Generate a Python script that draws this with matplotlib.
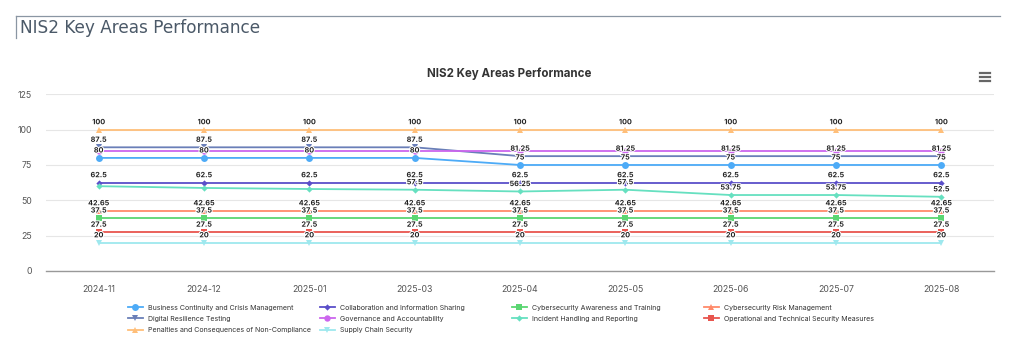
#!/usr/bin/env python3
"""
NIS2 key areas performance - line chart with data labels
"""

import matplotlib
matplotlib.use('Agg')
import matplotlib.pyplot as plt
import matplotlib.patheffects as pe
from matplotlib.lines import Line2D
import numpy as np

months = ['2024-11', '2024-12', '2025-01', '2025-03', '2025-04',
          '2025-05', '2025-06', '2025-07', '2025-08']

business_continuity = [80, 80, 80, 80, 75, 75, 75, 75, 75]
collaboration = [62.5] * 9
awareness_training = [37.5] * 9
risk_management = [42.65] * 9
digital_resilience = [87.5, 87.5, 87.5, 87.5, 81.25, 81.25, 81.25, 81.25, 81.25]
governance = [85] * 9
incident_handling = [60, 58.75, 58, 57.5, 56.25, 57.5, 53.75, 53.75, 52.5]
operational = [27.5] * 9
penalties = [100] * 9
supply_chain = [20] * 9

series_names = [
    'Business Continuity and Crisis Management',
    'Collaboration and Information Sharing',
    'Cybersecurity Awareness and Training',
    'Cybersecurity Risk Management',
    'Digital Resilience Testing',
    'Governance and Accountability',
    'Incident Handling and Reporting',
    'Operational and Technical Security Measures',
    'Penalties and Consequences of Non-Compliance',
    'Supply Chain Security',
]
series_values = [business_continuity, collaboration, awareness_training,
                 risk_management, digital_resilience, governance,
                 incident_handling, operational, penalties, supply_chain]

# colour, marker, marker size per series
styles = [
    ('#4dabf7', 'o', 5.0),
    ('#5b4fc9', 'D', 3.2),
    ('#5bd672', 's', 4.6),
    ('#ff8a6a', '^', 4.6),
    ('#6a7fb8', 'v', 4.6),
    ('#cc66ee', 'o', 4.6),
    ('#66e0c0', 'D', 3.2),
    ('#e8554e', 's', 4.6),
    ('#ffbf7a', '^', 4.6),
    ('#9ee8ee', 'v', 4.6),
]

plt.rcParams['font.family'] = ['Inter', 'DejaVu Sans']

fig = plt.figure(figsize=(10.24, 3.51), dpi=100)
fig.patch.set_facecolor('white')

# page header with frame lines
fig.add_artist(Line2D([16 / 1024, 1000 / 1024], [1 - 16 / 351, 1 - 16 / 351],
                      color='#8a96a3', lw=0.9))
fig.add_artist(Line2D([16 / 1024, 16 / 1024], [1 - 16 / 351, 1 - 38 / 351],
                      color='#8a96a3', lw=0.9))
fig.text(20 / 1024, 1 - 28 / 351, 'NIS2 Key Areas Performance', fontsize=12.2,
         color='#4b5968', family='DejaVu Sans', va='center', ha='left')

ax = fig.add_axes([46 / 1024, 80 / 351, 948 / 1024, 176.7 / 351])
x = np.arange(len(months))

for name, vals, (col, mk, ms) in zip(series_names, series_values, styles):
    ax.plot(x, vals, color=col, lw=1.3, marker=mk, markersize=ms,
            markeredgewidth=0, label=name, zorder=3)

# data labels, skipping those that would collide with an earlier one
for i in x:
    placed = []
    for vals in series_values:
        v = vals[i]
        if any(abs(v - p) < 4.75 for p in placed):
            continue
        placed.append(v)
        txt = ('%g' % v)
        ax.annotate(txt, (i, v), xytext=(0, 3.2), textcoords='offset points',
                    ha='center', va='bottom', fontsize=5.2, fontweight='bold',
                    color='#222222', zorder=5,
                    path_effects=[pe.withStroke(linewidth=1.5, foreground='white')])

ax.set_xlim(-0.5, len(months) - 0.5)
ax.set_ylim(0, 125)
ax.set_yticks([0, 25, 50, 75, 100, 125])
ax.set_xticks(x)
ax.set_xticklabels(months)
ax.tick_params(axis='both', length=0, labelsize=6.3, colors='#555555')
ax.tick_params(axis='x', pad=10)
ax.tick_params(axis='y', pad=10)
ax.grid(axis='y', color='#e6e6e6', lw=0.8)
ax.set_axisbelow(True)
for s in ['top', 'right', 'left']:
    ax.spines[s].set_visible(False)
ax.spines['bottom'].set_color('#999999')
ax.spines['bottom'].set_linewidth(1.0)

fig.text(509 / 1024, 1 - 74 / 351, 'NIS2 Key Areas Performance', ha='center',
         va='center', fontsize=8.3, fontweight='bold', color='#333333')

# export menu icon
for yy in [73, 77, 81]:
    fig.add_artist(Line2D([980 / 1024, 990 / 1024], [1 - yy / 351, 1 - yy / 351],
                          color='#666666', lw=1.6))

# legend: fixed-width columns filled row by row, one legend per column
handles, labels = ax.get_legend_handles_labels()
col_left = [122, 314, 506, 698]
for c, xl in enumerate(col_left):
    idx = list(range(c, len(handles), 4))
    leg = fig.legend([handles[k] for k in idx], [labels[k] for k in idx],
                     loc='upper left', bbox_to_anchor=(xl / 1024, 1 - 299 / 351),
                     frameon=False, fontsize=5.05, handlelength=2.2,
                     labelspacing=0.75, handletextpad=0.7, borderpad=0.3)
    for t in leg.get_texts():
        t.set_color('#333333')

fig.savefig('out.png', dpi=100, facecolor='white')
